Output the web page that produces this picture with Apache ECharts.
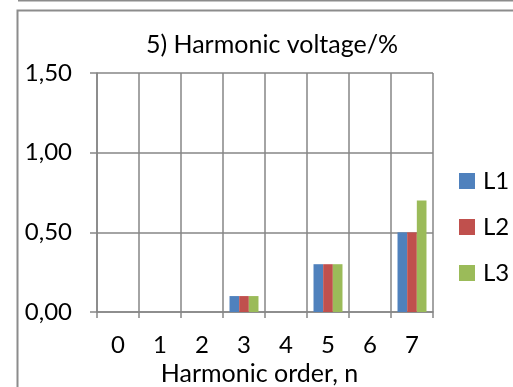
<!DOCTYPE html>
<html>
<head>
<meta charset="utf-8">
<script src="https://cdn.jsdelivr.net/npm/echarts@6/dist/echarts.min.js"></script>
<style>
html,body{margin:0;padding:0;background:#fff;}
#chart{width:513px;height:387px;}
</style>
</head>
<body>
<div id="chart"></div>
<script>
var titleText = '5) Harmonic voltage/%';
var xAxisName = 'Harmonic order, n';
var categories = ['0', '1', '2', '3', '4', '5', '6', '7'];
var seriesNames = ['L1', 'L2', 'L3'];
var L1 = [0, 0, 0, 0.1, 0, 0.3, 0, 0.5];
var L2 = [0, 0, 0, 0.1, 0, 0.3, 0, 0.5];
var L3 = [0, 0, 0, 0.1, 0, 0.3, 0, 0.7];
var colors = ['#4F81BD', '#C0504D', '#9BBB59'];

var FONT = 'Lato';
var gridColor = '#868686';
var chart = echarts.init(document.getElementById('chart'), null, {renderer: 'canvas'});
var data = [L1, L2, L3];
var option = {
  animation: false,
  backgroundColor: '#fff',
  textStyle: {fontFamily: FONT},
  title: {
    text: titleText,
    left: 272,
    top: 32,
    padding: 0,
    textAlign: 'center',
    textStyle: {fontFamily: FONT, fontSize: 25, fontWeight: 'normal', color: '#000'}
  },
  legend: {
    orient: 'vertical',
    left: 459,
    top: 169,
    padding: 0,
    itemWidth: 16,
    itemHeight: 16,
    itemGap: 22,
    icon: 'rect',
    textStyle: {fontFamily: FONT, fontSize: 24, color: '#000', lineHeight: 24, padding: [0, 0, 0, 3]},
    data: seriesNames
  },
  grid: {left: 97, top: 73, right: 80, bottom: 75, containLabel: false, outerBoundsMode: 'none'},
  xAxis: {
    type: 'category',
    data: categories,
    name: xAxisName,
    nameLocation: 'middle',
    nameGap: 46,
    nameTextStyle: {fontFamily: FONT, fontSize: 25, color: '#000', padding: [0, 11, 0, 0]},
    axisLine: {show: true, lineStyle: {color: gridColor, width: 1.5}},
    axisTick: {show: true, length: 6, lineStyle: {color: gridColor, width: 1.5}},
    axisLabel: {fontFamily: FONT, fontSize: 24, color: '#000', margin: 21},
    splitLine: {show: true, lineStyle: {color: gridColor, width: 1.5}}
  },
  yAxis: {
    type: 'value',
    min: 0,
    max: 1.5,
    interval: 0.5,
    axisLine: {show: true, lineStyle: {color: gridColor, width: 1.5}},
    axisTick: {show: true, length: 7, lineStyle: {color: gridColor, width: 1.5}},
    axisLabel: {
      fontFamily: FONT, fontSize: 24, color: '#000', margin: 25,
      formatter: function (v) { return v.toFixed(2).replace('.', ','); }
    },
    splitLine: {show: true, lineStyle: {color: gridColor, width: 1.5}}
  },
  series: seriesNames.map(function (n, i) {
    return {
      name: n,
      type: 'bar',
      data: data[i],
      barGap: '0%',
      barCategoryGap: '31%',
      itemStyle: {color: colors[i]}
    };
  }),
  graphic: [
    {type: 'line', silent: true, shape: {x1: 18, y1: 0.5, x2: 513, y2: 0.5}, style: {stroke: '#8c8c8c', lineWidth: 2}},
    {type: 'rect', silent: true, shape: {x: 17.5, y: 10.5, width: 600, height: 500}, style: {fill: 'none', stroke: '#8c8c8c', lineWidth: 2}}
  ]
};
chart.setOption(option);
</script>
</body>
</html>
